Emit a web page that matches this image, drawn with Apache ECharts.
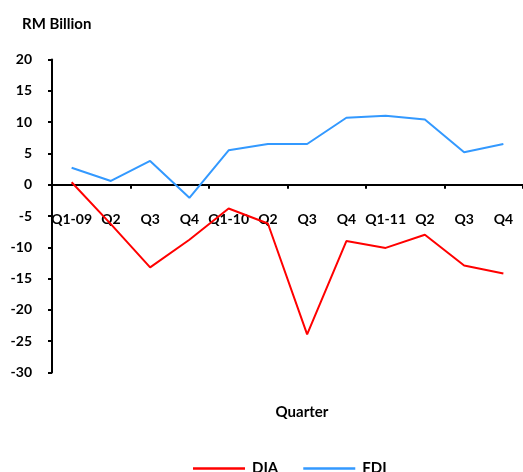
<!DOCTYPE html>
<html>
<head>
<meta charset="utf-8">
<script src="https://cdn.jsdelivr.net/npm/echarts@6/dist/echarts.min.js"></script>
<style>html,body{margin:0;padding:0;background:#fff}#c{width:523px;height:472px}</style>
</head>
<body>
<div id="c"></div>
<script>
const categories = ['Q1-09','Q2','Q3','Q4','Q1-10','Q2','Q3','Q4','Q1-11','Q2','Q3','Q4'];
const dia = [0.4, -6.3, -13.2, -8.8, -3.8, -6.2, -23.9, -9.0, -10.1, -8.0, -12.9, -14.2];
const fdi = [2.7, 0.6, 3.8, -2.1, 5.5, 6.5, 6.5, 10.7, 11.0, 10.4, 5.2, 6.5];
const yTicks = {min: -30, max: 20, interval: 5};

const FONT = 'Lato';
const chart = echarts.init(document.getElementById('c'), null, {renderer: 'canvas'});
chart.setOption({
  animation: false,
  backgroundColor: '#fff',
  title: [
    {text: 'RM Billion', left: 17, top: 12, textStyle: {fontFamily: FONT, fontWeight: 'bold', fontSize: 15, color: '#000'}},
    {text: 'Quarter', left: 297, top: 400, textAlign: 'center', textStyle: {fontFamily: FONT, fontWeight: 'bold', fontSize: 15, color: '#000'}}
  ],
  legend: {
    left: 188, top: 456, itemWidth: 52, itemHeight: 2.5, itemGap: 25, icon: 'rect',
    textStyle: {fontFamily: FONT, fontWeight: 'bold', fontSize: 15, color: '#000', padding: [0,0,0,2]},
    data: ['DIA', 'FDI']
  },
  grid: {left: 52, right: -12, top: 59.5, bottom: 99.5, containLabel: false},
  xAxis: [{
    type: 'category', data: categories, boundaryGap: true,
    axisLine: {onZero: true, lineStyle: {color: '#000', width: 2}},
    axisTick: {show: true, inside: false, length: 4, lineStyle: {color: '#000', width: 2}},
    axisLabel: {show: false},
    splitLine: {show: false}
  }, {
    type: 'category', data: categories, boundaryGap: true, position: 'bottom', offset: -188.7,
    axisLine: {show: false, onZero: false},
    axisTick: {show: false},
    axisLabel: {margin: 29, interval: 0, fontFamily: FONT, fontWeight: 'bold', fontSize: 14, color: '#000'},
    splitLine: {show: false}
  }],
  yAxis: {
    type: 'value', min: yTicks.min, max: yTicks.max, interval: yTicks.interval,
    axisLine: {show: true, lineStyle: {color: '#000', width: 2}},
    axisTick: {show: true, length: 4, lineStyle: {color: '#000', width: 2}},
    axisLabel: {margin: 20, fontFamily: FONT, fontWeight: 'bold', fontSize: 14, color: '#000'},
    splitLine: {show: false}
  },
  series: [
    {name: 'DIA', type: 'line', data: dia, symbol: 'none', lineStyle: {color: '#FF0000', width: 2}, itemStyle: {color: '#FF0000'}},
    {name: 'FDI', type: 'line', data: fdi, symbol: 'none', lineStyle: {color: '#3399FF', width: 2}, itemStyle: {color: '#3399FF'}}
  ]
});
</script>
</body>
</html>
